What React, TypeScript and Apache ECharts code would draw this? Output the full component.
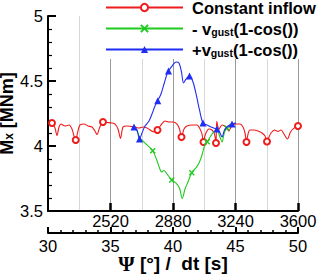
import React, { useEffect, useRef } from 'react';
import * as echarts from 'echarts';

// tick values of the time axis [s]
const timeTicks = [2520, 2880, 3240, 3600];

const seriesNames = ['Constant inflow', '- vgust(1-cos())', '+vgust(1-cos())'];

// [Psi, Mx] pairs
const constantInflow: [number, number][] = [
  [30.0, 4.177], [30.32, 4.177], [30.56, 4.138], [30.72, 4.08], [30.88, 4.146], [31.04, 4.169],
  [31.36, 4.154], [31.68, 4.162], [31.92, 4.131], [32.08, 4.077], [32.22, 4.046], [32.36, 4.1],
  [32.56, 4.162], [32.88, 4.169], [33.2, 4.154], [33.52, 4.146], [33.76, 4.115], [33.92, 4.088],
  [34.12, 4.138], [34.4, 4.185], [34.72, 4.181], [35.12, 4.177], [35.36, 4.169], [35.6, 4.131],
  [35.8, 4.058], [36.0, 4.146], [36.32, 4.154], [36.64, 4.15], [36.96, 4.146], [37.28, 4.138],
  [37.6, 4.146], [37.92, 4.138], [38.48, 4.108], [38.76, 4.123], [39.04, 4.162], [39.36, 4.192],
  [39.68, 4.185], [40.0, 4.185], [40.32, 4.169], [40.52, 4.131], [40.68, 4.069], [40.88, 4.131],
  [41.12, 4.154], [41.52, 4.162], [41.92, 4.162], [42.16, 4.131], [42.32, 4.092], [42.44, 4.031],
  [42.6, 4.092], [42.88, 4.131], [43.12, 4.123], [43.32, 4.092], [43.44, 4.023], [43.5, 4.19],
  [43.68, 4.13], [43.92, 4.162], [44.24, 4.146], [44.48, 4.115], [44.64, 4.146], [44.96, 4.169],
  [45.36, 4.169], [45.6, 4.146], [45.76, 4.1], [45.88, 4.031], [46.0, 4.092], [46.16, 4.123],
  [46.48, 4.123], [46.8, 4.115], [47.12, 4.1], [47.36, 4.077], [47.52, 4.035], [47.68, 4.069],
  [47.84, 4.1], [48.12, 4.123], [48.4, 4.112], [48.64, 4.123], [48.88, 4.092], [49.16, 4.054],
  [49.4, 4.108], [49.68, 4.138], [50.0, 4.154],
];
const constantInflowMarks = [30.32, 32.22, 34.4, 38.76, 40.68, 42.44, 43.44, 45.88, 47.52, 50.0];

const gustMinus: [number, number][] = [
  [36.88, 4.146], [37.12, 4.115], [37.36, 4.062], [37.6, 4.038], [37.92, 4.008], [38.38, 3.964],
  [38.7, 3.892], [38.92, 3.831], [39.08, 3.8], [39.28, 3.812], [39.52, 3.785], [39.9, 3.738],
  [40.24, 3.715], [40.52, 3.677], [40.74, 3.596], [40.96, 3.669], [41.2, 3.723], [41.5, 3.795],
  [41.88, 3.838], [42.12, 3.877], [42.32, 3.931], [42.52, 4.0], [42.74, 4.033], [43.0, 4.073],
  [43.28, 4.112], [43.52, 4.119], [43.76, 4.069], [43.92, 4.031], [44.12, 4.108], [44.32, 4.138],
  [44.64, 4.165], [44.96, 4.177],
];
const gustMinusMarks = [38.38, 39.9, 41.5, 42.74, 44.32];

const gustPlus: [number, number][] = [
  [36.88, 4.146], [37.12, 4.123], [37.32, 4.054], [37.52, 4.1], [37.76, 4.154], [38.08, 4.192],
  [38.32, 4.246], [38.56, 4.308], [38.78, 4.348], [39.04, 4.4], [39.28, 4.477], [39.52, 4.554],
  [39.64, 4.577], [39.92, 4.615], [40.24, 4.646], [40.48, 4.638], [40.68, 4.569], [40.84, 4.485],
  [41.04, 4.515], [41.32, 4.538], [41.6, 4.492], [41.88, 4.385], [42.12, 4.277], [42.4, 4.177],
  [42.72, 4.162], [43.04, 4.146], [43.36, 4.135], [43.52, 4.131], [43.76, 4.1], [43.92, 4.069],
  [44.12, 4.123], [44.4, 4.154], [44.72, 4.169], [45.04, 4.177],
];
const gustPlusMarks = [36.88, 37.32, 38.78, 39.64, 41.32, 42.4, 43.52, 44.72];

const RED = '#ee1c1c';
const GREEN = '#1ecb1e';
const BLUE = '#1f2cf5';
const CROSS = 'path://M0,0L10,10M0,10L10,0';

function toData(points: [number, number][], marks: number[]) {
  return points.map(([x, y]) =>
    marks.includes(x) ? { value: [x, y] } : { value: [x, y], symbol: 'none' }
  );
}

const FONT = 'Liberation Sans';

export default function App() {
  const ref = useRef<HTMLDivElement>(null);
  useEffect(() => {
    if (!ref.current) return;
    const chart = echarts.init(ref.current, undefined, { renderer: 'svg' });
    const boldRich = {
      b: { fontSize: 16.5, fontWeight: 'bold', fontFamily: FONT, color: '#000', lineHeight: 17 },
      s: { fontSize: 10.5, fontWeight: 'bold', fontFamily: FONT, color: '#000', lineHeight: 6, verticalAlign: 'bottom' },
    };
    const option = {
      animation: false,
      textStyle: { fontFamily: FONT },
      grid: { left: 48, top: 16, width: 250, height: 195, containLabel: false, outerBoundsMode: 'none' },
      legend: {
        orient: 'vertical',
        left: 100,
        top: -1,
        padding: [0, 6, 1, 5],
        itemGap: 4,
        itemWidth: 77,
        itemHeight: 9,
        backgroundColor: '#fff',
        data: seriesNames,
        textStyle: { padding: [0, 0, 0, 4], rich: boldRich },
        formatter: (name: string) => {
          if (name === seriesNames[0]) return '{b|Constant inflow}';
          if (name === seriesNames[1]) return '{b|- v}{s|gust}{b|(1-cos())}';
          return '{b|+v}{s|gust}{b|(1-cos())}';
        },
      },
      xAxis: [
        {
          type: 'value',
          min: 2160,
          max: 3600,
          interval: 360,
          position: 'bottom',
          axisLine: { show: true, onZero: false, lineStyle: { color: '#000', width: 2 } },
          axisTick: { show: true, inside: true, length: 8, customValues: timeTicks, lineStyle: { color: '#000', width: 2.5 } },
          axisLabel: {
            customValues: timeTicks,
            margin: 3,
            fontSize: 16.5,
            lineHeight: 14,
            color: '#000',
            fontFamily: FONT,
            formatter: (v: number) => String(v),
          },
          splitLine: { show: true, lineStyle: { color: '#9a9a9a', width: 1 } },
          minorTick: { show: false, splitNumber: 2 },
          minorSplitLine: { show: true, lineStyle: { color: '#d8d8d8', width: 1 } },
        },
        {
          type: 'value',
          min: 30,
          max: 50,
          interval: 5,
          position: 'bottom',
          offset: 22,
          name: '{p|Ψ} {b|[°]} {n|/}  {b|dt [s]}',
          nameLocation: 'middle',
          nameGap: 20,
          nameMoveOverlap: false,
          nameTextStyle: {
            fontSize: 19,
            fontWeight: 'bold',
            color: '#000',
            verticalAlign: 'top',
            rich: {
              p: { fontSize: 21, fontFamily: 'Liberation Serif', color: '#000' },
              b: { fontSize: 19, fontWeight: 'bold', fontFamily: FONT, color: '#000' },
              n: { fontSize: 19, fontFamily: FONT, color: '#000' },
            },
          },
          axisLine: { show: true, onZero: false, lineStyle: { color: '#000', width: 2 } },
          axisTick: { show: true, inside: true, length: 6, lineStyle: { color: '#000', width: 2 } },
          minorTick: { show: true, splitNumber: 5, length: 3, lineStyle: { color: '#000', width: 1.5 } },
          axisLabel: { margin: 6, fontSize: 16.5, lineHeight: 13, color: '#000', fontFamily: FONT },
          splitLine: { show: false },
        },
      ],
      yAxis: {
        type: 'value',
        min: 3.5,
        max: 5,
        interval: 0.5,
        name: '{b|M}{s|x}{b| [MNm]}',
        nameLocation: 'middle',
        nameRotate: 90,
        nameGap: 33,
        nameMoveOverlap: false,
        nameTextStyle: {
          verticalAlign: 'bottom',
          rich: {
            b: { fontSize: 18, fontWeight: 'bold', fontFamily: FONT, color: '#000', lineHeight: 16 },
            s: { fontSize: 12, fontWeight: 'bold', fontFamily: FONT, color: '#000', lineHeight: 6, verticalAlign: 'bottom' },
          },
        },
        axisLine: { show: true, onZero: false, lineStyle: { color: '#000', width: 2 } },
        axisTick: { show: true, inside: true, length: 8, lineStyle: { color: '#000', width: 2 } },
        minorTick: { show: true, splitNumber: 5, length: 4, lineStyle: { color: '#000', width: 1.2 } },
        axisLabel: { margin: 5, fontSize: 16.5, color: '#000', fontFamily: FONT },
        splitLine: { show: false },
      },
      series: [
        {
          name: seriesNames[0],
          type: 'line',
          xAxisIndex: 1,
          data: toData(constantInflow, constantInflowMarks),
          symbol: 'emptyCircle',
          symbolSize: 6,
          showAllSymbol: true,
          smooth: 0.3,
          lineStyle: { color: RED, width: 1.1 },
          itemStyle: { color: RED, borderWidth: 1.1 },
          z: 2,
        },
        {
          name: seriesNames[1],
          type: 'line',
          xAxisIndex: 1,
          data: toData(gustMinus, gustMinusMarks),
          symbol: CROSS,
          symbolSize: 5,
          showAllSymbol: true,
          smooth: 0.3,
          lineStyle: { color: GREEN, width: 1.1 },
          itemStyle: { color: GREEN, borderColor: GREEN, borderWidth: 1.4 },
          z: 3,
        },
        {
          name: seriesNames[2],
          type: 'line',
          xAxisIndex: 1,
          data: toData(gustPlus, gustPlusMarks),
          symbol: 'triangle',
          symbolSize: 7,
          showAllSymbol: true,
          smooth: 0.3,
          lineStyle: { color: BLUE, width: 1.1 },
          itemStyle: { color: BLUE },
          z: 4,
        },
      ],
    };
    chart.setOption(option as any);
    return () => chart.dispose();
  }, []);
  return (
    <div
      ref={ref}
      style={{ position: 'absolute', left: 0, top: 0, width: 320, height: 274, background: '#fff' }}
    />
  );
}
